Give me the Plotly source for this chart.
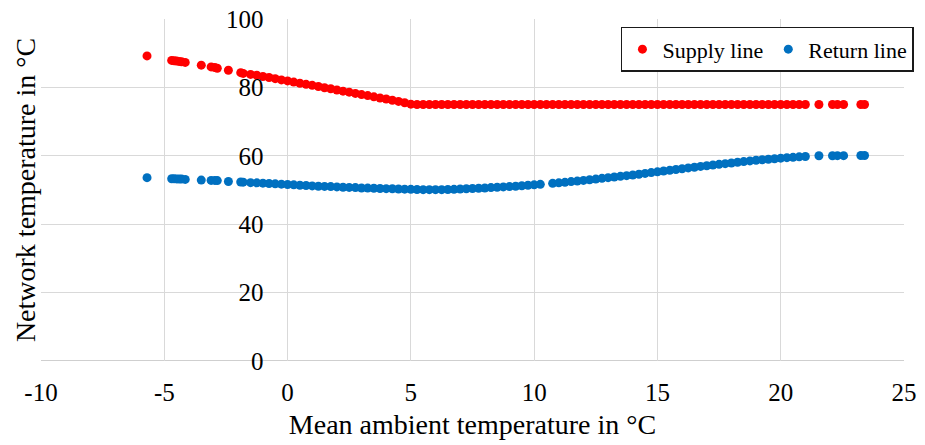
import plotly.graph_objects as go

# Mean ambient temperature (°C) of each sample, supply line
ambient_supply = [
    -5.7, -4.7, -4.6, -4.5, -4.4, -4.3, -4.15, -3.5, -3.1, -2.95, -2.85, -2.4, -1.9, -1.8, -1.5,
    -1.25, -1.0, -0.75, -0.5, -0.25, 0.0, 0.25, 0.5, 0.75, 1.0, 1.25, 1.5, 1.75, 2.0, 2.25,
    2.5, 2.75, 3.0, 3.25, 3.5, 3.75, 4.0, 4.25, 4.5, 4.75, 5.0,
    5.25, 5.5, 5.75, 6.0, 6.25, 6.5, 6.75, 7.0, 7.25, 7.5, 7.75, 8.0, 8.25, 8.5, 8.75,
    9.0, 9.25, 9.5, 9.75, 10.0, 10.25, 10.5, 10.75, 11.0,
    11.25, 11.5, 11.75, 12.0, 12.25, 12.5, 12.75, 13.0, 13.25, 13.5, 13.75, 14.0, 14.25, 14.5,
    14.75, 15.0, 15.25, 15.5, 15.75, 16.0, 16.25, 16.5, 16.75, 17.0, 17.25, 17.5, 17.75, 18.0,
    18.25, 18.5, 18.75, 19.0, 19.25, 19.5, 19.75, 20.0, 20.25, 20.5, 20.75, 21.0,
    21.55, 22.1, 22.3, 22.55, 23.25, 23.4,
]

# Supply line temperature (°C)
supply = [
    89.2, 87.9, 87.8, 87.7, 87.6, 87.5, 87.3, 86.5, 86.0, 85.8, 85.6, 85.0, 84.3, 84.1, 83.8,
    83.55, 83.2, 82.9, 82.55, 82.2, 81.9, 81.55, 81.2, 80.9, 80.6, 80.25, 79.9, 79.6, 79.25, 78.9,
    78.6, 78.25, 77.9, 77.6, 77.25, 76.9, 76.6, 76.25, 75.9, 75.5, 75.1,
    75.0, 75.0, 75.0, 75.0, 75.0, 75.0, 75.0, 75.0, 75.0, 75.0, 75.0, 75.0, 75.0, 75.0, 75.0,
    75.0, 75.0, 75.0, 75.0, 75.0, 75.0, 75.0, 75.0, 75.0,
    75.0, 75.0, 75.0, 75.0, 75.0, 75.0, 75.0, 75.0, 75.0, 75.0, 75.0, 75.0, 75.0, 75.0,
    75.0, 75.0, 75.0, 75.0, 75.0, 75.0, 75.0, 75.0, 75.0, 75.0, 75.0, 75.0, 75.0, 75.0,
    75.0, 75.0, 75.0, 75.0, 75.0, 75.0, 75.0, 75.0, 75.0, 75.0, 75.0, 75.0,
    75.0, 75.0, 75.0, 75.0, 75.0, 75.0,
]

# Mean ambient temperature (°C) of each sample, return line
ambient_return = [
    -5.7, -4.7, -4.6, -4.5, -4.4, -4.3, -4.15, -3.5, -3.1, -2.95, -2.85, -2.4, -1.9, -1.8, -1.5,
    -1.25, -1.0, -0.75, -0.5, -0.25, 0.0, 0.25, 0.5, 0.75, 1.0, 1.25, 1.5, 1.75, 2.0, 2.25,
    2.5, 2.75, 3.0, 3.25, 3.5, 3.75, 4.0, 4.25, 4.5, 4.75, 5.0,
    5.25, 5.5, 5.75, 6.0, 6.25, 6.5, 6.75, 7.0, 7.25, 7.5, 7.75, 8.0, 8.25, 8.5, 8.75,
    9.0, 9.25, 9.5, 9.75, 10.0, 10.25, 10.75, 11.0,
    11.25, 11.5, 11.75, 12.0, 12.25, 12.5, 12.75, 13.0, 13.25, 13.5, 13.75, 14.0, 14.25, 14.5,
    14.75, 15.0, 15.25, 15.5, 15.75, 16.0, 16.25, 16.5, 16.75, 17.0, 17.25, 17.5, 17.75, 18.0,
    18.25, 18.5, 18.75, 19.0, 19.25, 19.5, 19.75, 20.0, 20.25, 20.5, 20.75, 21.0,
    21.55, 22.1, 22.3, 22.55, 23.25, 23.4,
]

# Return line temperature (°C)
return_t = [
    53.6, 53.3, 53.3, 53.25, 53.2, 53.2, 53.1, 52.9, 52.8, 52.8, 52.75, 52.5, 52.35, 52.3, 52.15,
    52.1, 52.0, 51.9, 51.8, 51.7, 51.6, 51.5, 51.4, 51.3, 51.2, 51.1, 51.05, 51.0, 50.9, 50.8,
    50.75, 50.7, 50.6, 50.55, 50.5, 50.45, 50.4, 50.35, 50.3, 50.25, 50.2,
    50.15, 50.1, 50.1, 50.1, 50.1, 50.15, 50.2, 50.3, 50.35, 50.45, 50.5, 50.6, 50.7, 50.8, 50.9,
    51.0, 51.1, 51.25, 51.4, 51.5, 51.65, 51.95, 52.1,
    52.25, 52.45, 52.6, 52.8, 53.0, 53.2, 53.4, 53.6, 53.8, 54.0, 54.2, 54.4, 54.6, 54.85,
    55.1, 55.3, 55.55, 55.75, 56.0, 56.2, 56.45, 56.65, 56.9, 57.1, 57.3, 57.5, 57.7, 57.9,
    58.1, 58.3, 58.5, 58.7, 58.85, 59.0, 59.15, 59.3, 59.45, 59.55, 59.7, 59.8,
    60.0, 60.0, 60.05, 60.05, 60.1, 60.1,
]

x_ticks = [-10, -5, 0, 5, 10, 15, 20, 25]
y_ticks = [0, 20, 40, 60, 80, 100]

FONT = "Liberation Serif, Times New Roman, serif"
GRID = "#d9d9d9"

fig = go.Figure()
fig.add_trace(go.Scatter(x=ambient_supply, y=supply, mode="markers", name="Supply line",
                         marker=dict(color="#ff0000", size=9, line=dict(width=0))))
fig.add_trace(go.Scatter(x=ambient_return, y=return_t, mode="markers", name="Return line",
                         marker=dict(color="#0070c0", size=9, line=dict(width=0))))

x_range = [-10, 25]
y_axis_pos = (0 - x_range[0]) / (x_range[1] - x_range[0])

# The page body has an 8px default margin, so the figure is sized to fit inside it.
fig.update_layout(
    width=917, height=437,
    margin=dict(l=33, r=16, t=11, b=84),
    paper_bgcolor="white", plot_bgcolor="white",
    font=dict(family=FONT, size=25, color="#000000"),
    showlegend=True,
    legend=dict(orientation="h", x=0.672, y=0.977, xanchor="left", yanchor="top",
                bgcolor="white", bordercolor="#1a1a1a", borderwidth=1.5,
                font=dict(family=FONT, size=22), itemwidth=30,
                tracegroupgap=0),
    xaxis=dict(range=x_range, tickvals=x_ticks, ticktext=[str(v) for v in x_ticks],
               automargin=False, ticklabeloverflow="allow",
               showgrid=True, gridcolor=GRID, gridwidth=1, zeroline=False,
               showline=False, ticks="", ticklabelstandoff=14,
               tickfont=dict(family=FONT, size=25),
               title=dict(text="Mean ambient temperature in °C",
                          font=dict(family=FONT, size=28), standoff=9)),
    yaxis=dict(range=[0, 100], tickvals=y_ticks, ticktext=[str(v) for v in y_ticks],
               anchor="free", position=y_axis_pos, automargin=False,
               ticklabeloverflow="allow",
               showgrid=True, gridcolor=GRID, gridwidth=1, zeroline=False,
               showline=False, ticks="", ticklabelstandoff=24,
               tickfont=dict(family=FONT, size=25)),
    shapes=[dict(type="line", xref="paper", yref="y", x0=0, x1=1, y0=0, y1=0,
                 line=dict(color="#bfbfbf", width=1.5), layer="below")],
    annotations=[dict(text="Network temperature in °C", xref="paper", yref="paper",
                      x=-0.0184, y=0.5, textangle=-90, showarrow=False,
                      xanchor="center", yanchor="middle",
                      font=dict(family=FONT, size=28, color="#000000"))],
)

fig.write_html("out.html")
